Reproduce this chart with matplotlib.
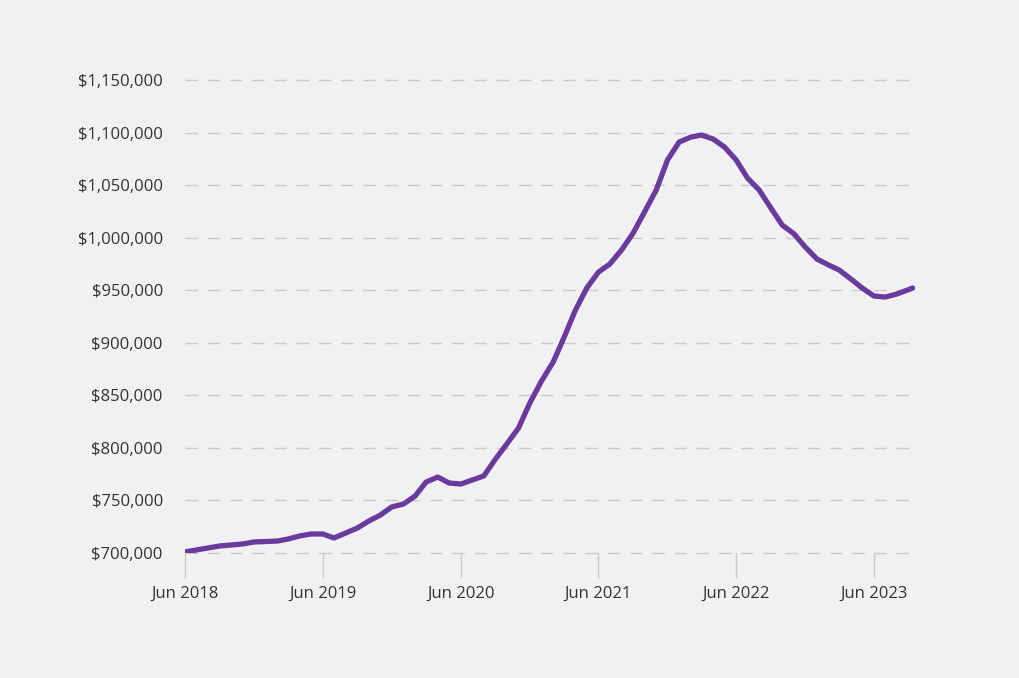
import matplotlib.pyplot as plt
import matplotlib.ticker as mticker
import pandas as pd

# Monthly median price
dates = pd.date_range('2018-06-01', periods=63, freq='MS').tolist() + [pd.Timestamp('2023-09-12')]
prices = [
    701000, 702900, 704800, 706700, 707600, 708600, 710500, 710900, 711400, 713300,
    716200, 718100, 718100, 714300, 719000, 723800, 730400, 736100, 743800, 746600,
    754200, 767500, 772300, 766600, 765600, 769400, 773300, 789400, 803700, 818900,
    842700, 863600, 881700, 904500, 931200, 952100, 967300, 974900, 988200, 1004400,
    1024400, 1045300, 1073900, 1091000, 1095700, 1097600, 1093800, 1086200, 1073900, 1056700,
    1045300, 1028200, 1012000, 1003700, 991100, 979700, 974000, 969200, 960700, 952100,
    944500, 943500, 946400, 952100,
]

tick_dates = pd.date_range('2018-06-01', '2023-06-01', freq='12MS')
tick_labels = [d.strftime('%b %Y') for d in tick_dates]

bg = '#f1f1f4'
plt.rcParams['font.family'] = ['Open Sans', 'DejaVu Sans']

fig = plt.figure(figsize=(10.19, 6.78), dpi=100, facecolor=bg)
ax = fig.add_axes([185 / 1019, 1 - 553 / 678, 730 / 1019, 473 / 678], facecolor=bg)

ax.plot(dates, prices, color='#6a3a9c', linewidth=3.8, solid_capstyle='round', zorder=3)

ax.set_ylim(700000, 1150000)
ax.set_xlim(pd.Timestamp('2018-06-01'), pd.Timestamp('2023-09-18'))
ax.yaxis.set_major_locator(mticker.MultipleLocator(50000))
ax.yaxis.set_major_formatter(mticker.FuncFormatter(lambda v, p: f'${v:,.0f}'))
ax.set_xticks(tick_dates)
ax.set_xticklabels(tick_labels)

ax.grid(axis='y', color='#cacacc', linestyle=(0, (9, 7)), linewidth=1.0)
for gl in ax.get_ygridlines():
    gl.set_clip_on(False)
ax.set_axisbelow(True)
for s in ax.spines.values():
    s.set_visible(False)

ax.tick_params(axis='y', length=0, pad=16, labelsize=12, labelcolor='#333333')
ax.tick_params(axis='x', length=18, width=1, color='#cacacc', pad=6, labelsize=12, labelcolor='#333333')

fig.savefig('out.png', dpi=100, facecolor=bg)
